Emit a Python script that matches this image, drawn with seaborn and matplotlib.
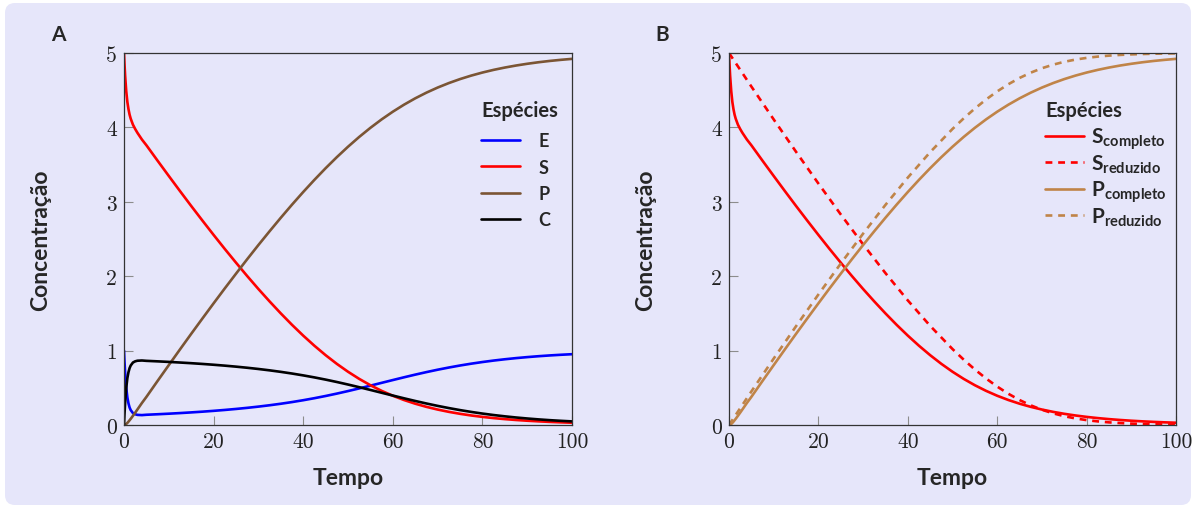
import matplotlib
matplotlib.use("Agg")
import matplotlib.pyplot as plt
import seaborn as sns
import numpy as np
import pandas as pd
from matplotlib.patches import FancyBboxPatch
from matplotlib.transforms import IdentityTransform

# ---------------- data ----------------
t_full = [0, 0.1, 0.25, 0.5, 0.75, 1, 1.25, 1.5, 2, 2.5, 3, 4,
          5, 7.5, 10, 12.5, 15, 17.5, 20, 22.5, 25, 27.5, 30, 32.5, 35, 37.5,
          40, 42.5, 45, 47.5, 50, 52.5, 55, 57.5, 60, 62.5, 65, 67.5, 70, 72.5,
          75, 77.5, 80, 82.5, 85, 87.5, 90, 92.5, 95, 97.5, 100]
E_full = [1.0, 0.865, 0.70, 0.50, 0.37, 0.29, 0.235, 0.20, 0.16, 0.144, 0.136, 0.133,
          0.1376, 0.1445, 0.152, 0.1603, 0.1693, 0.1792, 0.1902, 0.2023, 0.2157, 0.2306,
          0.2471, 0.2654, 0.2857, 0.3082, 0.3331, 0.3603, 0.3899, 0.4219, 0.456, 0.4918,
          0.5288, 0.5665, 0.6041, 0.6411, 0.6769, 0.7109, 0.7429, 0.7724, 0.7996, 0.8242,
          0.8463, 0.8661, 0.8835, 0.899, 0.9125, 0.9245, 0.9349, 0.9438, 0.9516]
S_full = [5.0, 4.864, 4.696, 4.486, 4.342, 4.245, 4.171, 4.117, 4.036, 3.978, 3.927, 3.837,
          3.76, 3.552, 3.347, 3.144, 2.944, 2.748, 2.555, 2.366, 2.182, 2.002,
          1.828, 1.661, 1.50, 1.3465, 1.2015, 1.0654, 0.9387, 0.8221, 0.7159, 0.62,
          0.5346, 0.4592, 0.3932, 0.3359, 0.2864, 0.244, 0.2077, 0.1768, 0.1504, 0.128,
          0.109, 0.0928, 0.0791, 0.0674, 0.0575, 0.049, 0.0418, 0.0357, 0.0305]
P_full = [0.0, 0.0007, 0.004, 0.014, 0.028, 0.045, 0.064, 0.083, 0.124, 0.166, 0.209, 0.296,
          0.3776, 0.5925, 0.805, 1.0163, 1.2253, 1.4312, 1.6352, 1.8363, 2.0337, 2.2286,
          2.4191, 2.6044, 2.7857, 2.9617, 3.1316, 3.2949, 3.4512, 3.5998, 3.7401, 3.8718,
          3.9942, 4.1073, 4.2109, 4.3052, 4.3905, 4.4669, 4.5352, 4.5956, 4.6492, 4.6962,
          4.7373, 4.7733, 4.8044, 4.8316, 4.855, 4.8755, 4.8931, 4.9081, 4.9211]
C_full = [0.0, 0.135, 0.30, 0.50, 0.63, 0.71, 0.765, 0.80, 0.84, 0.856, 0.864, 0.867,
          0.8624, 0.8555, 0.848, 0.8397, 0.8307, 0.8208, 0.8098, 0.7977, 0.7843, 0.7694,
          0.7529, 0.7346, 0.7143, 0.6918, 0.6669, 0.6397, 0.6101, 0.5781, 0.544, 0.5082,
          0.4712, 0.4335, 0.3959, 0.3589, 0.3231, 0.2891, 0.2571, 0.2276, 0.2004, 0.1758,
          0.1537, 0.1339, 0.1165, 0.101, 0.0875, 0.0755, 0.0651, 0.0562, 0.0484]

t_red = [0, 5, 10, 15, 20, 25, 30, 35, 40, 45, 50,
         52.5, 55, 57.5, 60, 62.5, 65, 67.5, 70, 72.5, 75, 77.5, 80, 82.5, 85,
         87.5, 90, 92.5, 95, 97.5, 100]
S_red = [5.0, 4.5497, 4.107, 3.672, 3.2457, 2.8303, 2.428, 2.0416, 1.6749, 1.3327, 1.0209,
         0.8786, 0.7464, 0.6255, 0.5163, 0.4197, 0.3357, 0.2644, 0.205, 0.157, 0.1185,
         0.0886, 0.0657, 0.0484, 0.0354, 0.0258, 0.0187, 0.0136, 0.0098, 0.0071, 0.0052]
P_red = [0.0, 0.4503, 0.893, 1.328, 1.7543, 2.1697, 2.572, 2.9584, 3.3251, 3.6673, 3.9791,
         4.1214, 4.2536, 4.3745, 4.4837, 4.5803, 4.6643, 4.7356, 4.795, 4.843, 4.8815,
         4.9114, 4.9343, 4.9516, 4.9646, 4.9742, 4.9813, 4.9864, 4.9902, 4.9929, 4.9948]

x_ticks = [0, 20, 40, 60, 80, 100]
y_ticks = [0, 1, 2, 3, 4, 5]
labels_A = ["E", "S", "P", "C"]
labels_B = [r"$\mathbf{S}_{\mathbf{completo}}$", r"$\mathbf{S}_{\mathbf{reduzido}}$",
            r"$\mathbf{P}_{\mathbf{completo}}$", r"$\mathbf{P}_{\mathbf{reduzido}}$"]

# ---------------- style ----------------
sns.set_style("ticks")
plt.rcParams["font.family"] = ["Lato", "DejaVu Sans"]
plt.rcParams["mathtext.fontset"] = "custom"
plt.rcParams["mathtext.rm"] = "Lato"
plt.rcParams["mathtext.bf"] = "Lato:bold"
plt.rcParams["mathtext.it"] = "Lato:italic"
plt.rcParams["mathtext.sf"] = "Lato"

BG = "#E6E6FA"
RED = "#FF0000"
BLUE = "#0000FF"
BROWN_A = "#7B5534"
BROWN_B = "#C08448"
LW = 1.9

fig = plt.figure(figsize=(11.97, 5.10), dpi=100, facecolor="white")
box = FancyBboxPatch((5, 4), 1186, 502, boxstyle="round,pad=0,rounding_size=10",
                     transform=IdentityTransform(), facecolor=BG, edgecolor="none", zorder=-10)
fig.add_artist(box)

axA = fig.add_axes([124 / 1197, 84 / 510, 448 / 1197, 372 / 510])
axB = fig.add_axes([729 / 1197, 84 / 510, 447 / 1197, 372 / 510])


def style_axes(ax):
    ax.set_facecolor("none")
    ax.set_xlim(0, 100)
    ax.set_ylim(0, 5)
    ax.set_xticks(x_ticks, [str(v) for v in x_ticks])
    ax.set_yticks(y_ticks, [str(v) for v in y_ticks])
    ax.tick_params(direction="in", length=6.5, width=0.8, color="#8c8c8c",
                   labelsize=15.5, labelfontfamily="cmr10", pad=5,
                   top=False, right=False, labelcolor="#222222")
    for s in ax.spines.values():
        s.set_color("#333333")
        s.set_linewidth(0.9)
        s.set_visible(True)
    ax.set_xlabel("Tempo", fontsize=16.5, fontweight="bold")
    ax.set_ylabel("Concentração", fontsize=16.5, fontweight="bold")
    ax.xaxis.set_label_coords(0.5, -0.113)
    ax.yaxis.set_label_coords(-0.163, 0.5)


# Panel A
sns.lineplot(x=t_full, y=E_full, ax=axA, color=BLUE, lw=LW, label=labels_A[0], estimator=None, sort=False)
sns.lineplot(x=t_full, y=S_full, ax=axA, color=RED, lw=LW, label=labels_A[1], estimator=None, sort=False)
sns.lineplot(x=t_full, y=P_full, ax=axA, color=BROWN_A, lw=LW, label=labels_A[2], estimator=None, sort=False)
sns.lineplot(x=t_full, y=C_full, ax=axA, color="black", lw=LW, label=labels_A[3], estimator=None, sort=False)
style_axes(axA)
legA = axA.legend(title="Espécies", loc="upper left", bbox_to_anchor=(0.797, 0.873),
                  frameon=False, borderpad=0, borderaxespad=0, handlelength=2.17,
                  handletextpad=1.0, labelspacing=0.52, alignment="left",
                  prop={"family": "Lato", "weight": "bold", "size": 13},
                  title_fontproperties={"family": "Lato", "weight": "bold", "size": 14.5})
legA._legend_box.sep = 8.7

# Panel B
dash = (0, (2.6, 2.2))
sns.lineplot(x=t_full, y=S_full, ax=axB, color=RED, lw=LW, label=labels_B[0], estimator=None, sort=False)
sns.lineplot(x=t_red, y=S_red, ax=axB, color=RED, lw=LW, label=labels_B[1], estimator=None, sort=False, linestyle=dash)
sns.lineplot(x=t_full, y=P_full, ax=axB, color=BROWN_B, lw=LW, label=labels_B[2], estimator=None, sort=False)
sns.lineplot(x=t_red, y=P_red, ax=axB, color=BROWN_B, lw=LW, label=labels_B[3], estimator=None, sort=False, linestyle=dash)
style_axes(axB)
legB = axB.legend(title="Espécies", loc="upper left", bbox_to_anchor=(0.707, 0.873),
                  frameon=False, borderpad=0, borderaxespad=0, handlelength=1.87,
                  handletextpad=0.32, labelspacing=0.05, alignment="left",
                  prop={"family": "Lato", "weight": "bold", "size": 15},
                  title_fontproperties={"family": "Lato", "weight": "bold", "size": 14.5})
for col in legB._legend_handle_box.get_children():
    col.mode = "equal"
legB._legend_box.sep = 4.0

fig.text(58 / 1197, 1 - 35 / 510, "A", ha="center", va="center", fontsize=15, fontweight="bold")
fig.text(662 / 1197, 1 - 35 / 510, "B", ha="center", va="center", fontsize=15, fontweight="bold")

fig.savefig("out.png", dpi=100, facecolor="white")
